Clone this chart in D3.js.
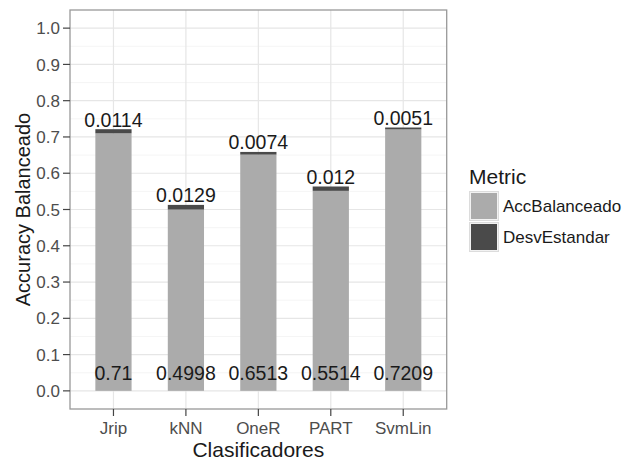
<!DOCTYPE html>
<html><head><meta charset="utf-8">
<script src="https://cdn.jsdelivr.net/npm/d3@7"></script>
<style>body{margin:0;background:#fff;} text{font-family:"Liberation Sans",Arial,sans-serif;}</style>
</head><body>
<svg id="c" width="623" height="461"></svg>
<script>
const categories = ["Jrip","kNN","OneR","PART","SvmLin"];
const accBalanceado = [0.71, 0.4998, 0.6513, 0.5514, 0.7209];
const desvEstandar = [0.0114, 0.0129, 0.0074, 0.012, 0.0051];
const yTicks = [0,0.1,0.2,0.3,0.4,0.5,0.6,0.7,0.8,0.9,1.0];
const metrics = ["AccBalanceado","DesvEstandar"];
const colors = ["#ababab","#4a4a4a"];

const svg = d3.select("#c");
const L=70, R=446.7, T=10, B=409;
const y = d3.scaleLinear().domain([-0.05,1.05]).range([B,T]);
const x = d3.scalePoint().domain(categories).range([L+0.6*(R-L)/5.2, R-0.6*(R-L)/5.2]);
const unit = (R-L)/5.2;
const cx = c => x(c);
const bw = 0.5*unit;

const minor = d3.range(0.05,1.0,0.1);
svg.append("g").selectAll("line").data(minor).join("line")
  .attr("x1",L).attr("x2",R).attr("y1",d=>y(d)).attr("y2",d=>y(d))
  .attr("stroke","#f2f2f2").attr("stroke-width",0.8);
svg.append("g").selectAll("line").data(yTicks).join("line")
  .attr("x1",L).attr("x2",R).attr("y1",d=>y(d)).attr("y2",d=>y(d))
  .attr("stroke","#e6e6e6").attr("stroke-width",1.2);
svg.append("g").selectAll("line").data(categories).join("line")
  .attr("y1",T).attr("y2",B).attr("x1",d=>cx(d)).attr("x2",d=>cx(d))
  .attr("stroke","#e6e6e6").attr("stroke-width",1.2);

const stackData = categories.map((c,i)=>({c, a:accBalanceado[i], d:desvEstandar[i]}));
svg.append("g").selectAll("rect").data(stackData).join("rect")
  .attr("x",d=>cx(d.c)-bw/2).attr("width",bw)
  .attr("y",d=>y(d.a)).attr("height",d=>y(0)-y(d.a)).attr("fill",colors[0]);
svg.append("g").selectAll("rect").data(stackData).join("rect")
  .attr("x",d=>cx(d.c)-bw/2).attr("width",bw)
  .attr("y",d=>y(d.a+d.d)).attr("height",d=>y(d.a)-y(d.a+d.d)).attr("fill",colors[1]);

svg.append("g").selectAll("text").data(stackData).join("text")
  .attr("x",d=>cx(d.c)).attr("y",d=>y(d.a+d.d)-2.5)
  .attr("text-anchor","middle").attr("font-size",19.5).attr("fill","#1a1a1a")
  .text(d=>String(d.d));
svg.append("g").selectAll("text").data(stackData).join("text")
  .attr("x",d=>cx(d.c)).attr("y",y(0.05)).attr("dy","0.36em")
  .attr("text-anchor","middle").attr("font-size",19.5).attr("fill","#1a1a1a")
  .text(d=>String(d.a));

svg.append("rect").attr("x",L).attr("y",T).attr("width",R-L).attr("height",B-T)
  .attr("fill","none").attr("stroke","#999").attr("stroke-width",1.3);

const ya = svg.append("g");
ya.selectAll("line").data(yTicks).join("line")
  .attr("x1",L-7).attr("x2",L).attr("y1",d=>y(d)).attr("y2",d=>y(d)).attr("stroke","#444").attr("stroke-width",1.2);
ya.selectAll("text").data(yTicks).join("text")
  .attr("x",L-10).attr("y",d=>y(d)).attr("dy","0.36em").attr("text-anchor","end")
  .attr("font-size",17).attr("fill","#4d4d4d").text(d=>d3.format(".1f")(d));
const xa = svg.append("g");
xa.selectAll("line").data(categories).join("line")
  .attr("x1",d=>cx(d)).attr("x2",d=>cx(d)).attr("y1",B).attr("y2",B+7).attr("stroke","#444").attr("stroke-width",1.2);
xa.selectAll("text").data(categories).join("text")
  .attr("x",d=>cx(d)).attr("y",434).attr("text-anchor","middle")
  .attr("font-size",17).attr("fill","#4d4d4d").text(d=>d);

svg.append("text").attr("x",(L+R)/2).attr("y",457).attr("text-anchor","middle")
  .attr("font-size",21).attr("fill","#1a1a1a").text("Clasificadores");
svg.append("text").attr("transform",`translate(30,${(T+B)/2}) rotate(-90)`)
  .attr("text-anchor","middle").attr("font-size",20).attr("fill","#1a1a1a").text("Accuracy Balanceado");

const lg = svg.append("g");
lg.append("text").attr("x",469).attr("y",184).attr("font-size",21).attr("fill","#1a1a1a").text("Metric");
metrics.forEach((m,i)=>{
  const ky = 191 + i*31;
  lg.append("rect").attr("x",469.5).attr("y",ky+0.5).attr("width",29).attr("height",29)
    .attr("fill","#f2f2f2").attr("stroke","#dcdcdc").attr("stroke-width",1);
  lg.append("rect").attr("x",471).attr("y",ky+2).attr("width",26).attr("height",26).attr("fill",colors[i]);
  lg.append("text").attr("x",503).attr("y",ky+15).attr("dy","0.36em").attr("font-size",17).attr("fill","#1a1a1a").text(m);
});
</script>
</body></html>
